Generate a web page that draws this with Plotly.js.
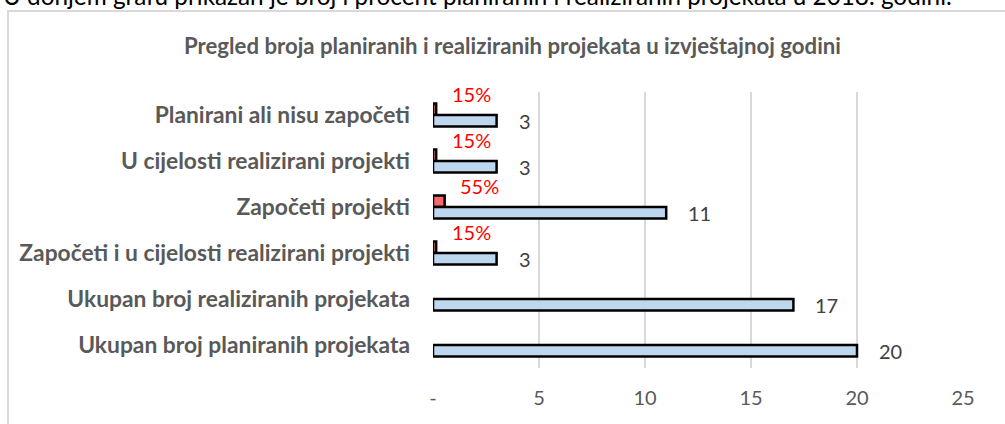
<!DOCTYPE html>
<html>
<head>
<meta charset="utf-8">
<script src="https://cdn.plot.ly/plotly-3.0.1.min.js"></script>
<style>
html,body{margin:0;padding:0;background:#fff;}
#chart{width:1005px;height:424px;}
</style>
</head>
<body>
<div id="chart"></div>
<script>
const categories = [
  "Planirani ali nisu započeti",
  "U cijelosti realizirani projekti",
  "Započeti projekti",
  "Započeti i u cijelosti realizirani projekti",
  "Ukupan broj realiziranih projekata",
  "Ukupan broj planiranih projekata"
];
const counts = [3, 3, 11, 3, 17, 20];
const shares = [0.15, 0.15, 0.55, 0.15, null, null];
const tickValues = [0, 5, 10, 15, 20, 25];
const tickLabels = ["-", "5", "10", "15", "20", "25"];
const introText = "U donjem grafu prikazan je broj i procent planiranih i realiziranih projekata u 2018. godini.";
const chartTitle = "Pregled broja planiranih i realiziranih projekata u izvještajnoj godini";

const FONT = "Lato, 'Open Sans', sans-serif";
const L = 433, R = 42, T = 92, B = 56, W = 1005, H = 424;
const pw = W - L - R, ph = H - T - B;
const px2x = p => (p - L) / pw;
const py2y = p => (H - B - p) / ph;

const traces = [
  {
    type: "bar", orientation: "h", name: "Udio",
    y: categories, x: shares,
    marker: {color: "#f4696b", line: {color: "#000", width: 2.5}},
    hoverinfo: "none"
  },
  {
    type: "bar", orientation: "h", name: "Broj",
    y: categories, x: counts,
    marker: {color: "#bdd7ee", line: {color: "#000", width: 2.5}},
    hoverinfo: "none"
  }
];

const annotations = [];
counts.forEach((v, i) => {
  annotations.push({
    x: v, y: categories[i], xref: "x", yref: "y",
    text: String(v), showarrow: false, xanchor: "left", yanchor: "middle",
    xshift: 20, yshift: -6,
    font: {family: FONT, size: 20, color: "#404040"}
  });
});
shares.forEach((v, i) => {
  if (v === null) return;
  annotations.push({
    x: v, y: categories[i], xref: "x", yref: "y",
    text: Math.round(v * 100) + "%", showarrow: false, xanchor: "center", yanchor: "middle",
    xshift: 35, yshift: 21,
    font: {family: FONT, size: 20, color: "#ff0000"}
  });
});
annotations.push({
  x: px2x(1), y: py2y(12), xref: "paper", yref: "paper",
  text: introText, showarrow: false, xanchor: "left", yanchor: "bottom",
  font: {family: FONT, size: 24.3, color: "#000"}
});
annotations.push({
  x: px2x(512), y: py2y(46), xref: "paper", yref: "paper",
  text: "<b>" + chartTitle + "</b>", showarrow: false, xanchor: "center", yanchor: "middle",
  font: {family: FONT, size: 22.2, color: "#595959"}
});

const layout = {
  width: W, height: H,
  margin: {l: L, r: R, t: T, b: B, pad: 0},
  paper_bgcolor: "#fff", plot_bgcolor: "#fff",
  showlegend: false,
  barmode: "group", bargap: 0.5, bargroupgap: 0,
  xaxis: {
    range: [0, 25], tickvals: tickValues, ticktext: tickLabels,
    showgrid: true, gridcolor: "#d9d9d9", gridwidth: 2,
    zeroline: false, showline: false, ticks: "",
    ticklabelstandoff: 16,
    tickfont: {family: FONT, size: 20, color: "#595959"},
    fixedrange: true
  },
  yaxis: {
    autorange: "reversed", type: "category",
    showgrid: false, zeroline: false, showline: false, ticks: "",
    ticklabelstandoff: 22,
    tickfont: {family: FONT, size: 22.8, color: "#595959", weight: "bold"},
    fixedrange: true
  },
  annotations: annotations,
  shapes: [{
    type: "rect", xref: "paper", yref: "paper", layer: "below",
    x0: px2x(8), x1: px2x(1012), y0: py2y(11), y1: py2y(432),
    line: {color: "#d9d9d9", width: 2}, fillcolor: "rgba(0,0,0,0)"
  }]
};

Plotly.newPlot("chart", traces, layout, {displayModeBar: false, staticPlot: true});
</script>
</body>
</html>
